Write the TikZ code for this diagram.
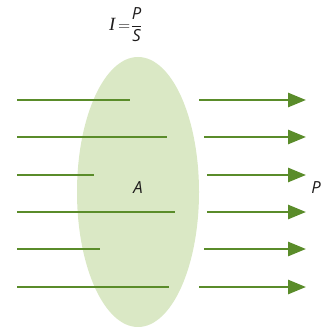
\documentclass[tikz,border=0pt]{standalone}
\usepackage{amsmath}
\usepackage{fontspec}
\setmainfont{Open Sans}
\newfontfamily\serifI{Liberation Serif}
\usepackage{tikz}
\usetikzlibrary{arrows.meta}
\definecolor{raygreen}{RGB}{90,140,42}
\definecolor{lensgreen}{RGB}{218,232,197}
\definecolor{labelgray}{RGB}{30,28,28}
\tikzset{
  ray/.style={line width=2pt, color=raygreen},
  rayarrow/.style={ray, -{Triangle[length=13.5pt, width=10.5pt]}},
  lbl/.style={font=\fontsize{12.5}{14}\selectfont\itshape, text=labelgray, inner sep=0pt}
}

\begin{document}
\begin{tikzpicture}[x=0.75pt, y=-0.75pt]
  \useasboundingbox (0,0) rectangle (326,327);
  \begin{scope}
    \clip (0,0) rectangle (326,327);
    % surface
    \fill[lensgreen] (138,192) ellipse [x radius=61, y radius=135];
  \end{scope}

  % incoming rays
  \foreach \i/\y/\e in {1/100/130, 2/137/167, 3/175/94, 4/212/175, 5/249/100, 6/287/169} {
    \coordinate (in\i) at (17,\y);
    \coordinate (hit\i) at (\e,\y);
    \draw[ray] (in\i) -- (hit\i);
  }

  % outgoing rays
  \foreach \i/\y/\s in {1/100/199, 2/137/204, 3/175/207, 4/212/207, 5/249/204, 6/287/199} {
    \coordinate (out\i) at (\s,\y);
    \coordinate (tip\i) at (306,\y);
    \draw[rayarrow] (out\i) -- (tip\i);
  }

  % labels
  \node[lbl] (area) at (138,188) {A};
  \node[lbl] (power) at (316,188) {P};
  \node[lbl, font=\fontsize{12.5}{14}\selectfont] (formula) at (126,25)
    {$\text{\serifI\itshape\fontsize{14}{14}\selectfont I}\,{=}\dfrac{\text{\itshape P}}{\text{\itshape S}}$};
\end{tikzpicture}
\end{document}
